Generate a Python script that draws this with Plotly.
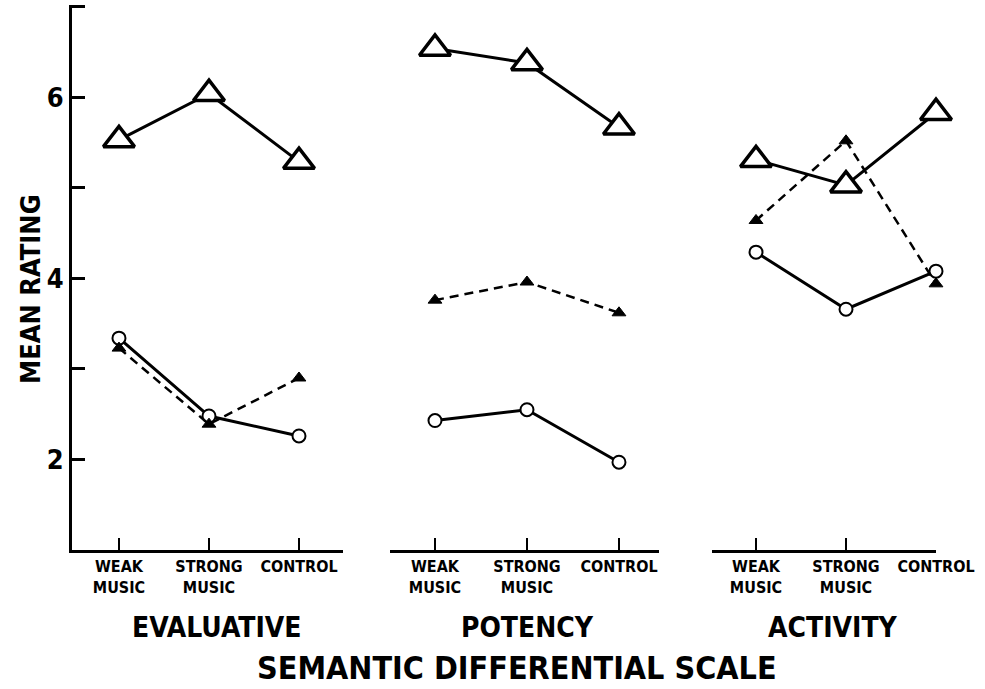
import plotly.graph_objects as go

# ---- data -------------------------------------------------------------
conditions = ["WEAK<br>MUSIC", "STRONG<br>MUSIC", "CONTROL"]
scales = ["EVALUATIVE", "POTENCY", "ACTIVITY"]

# open triangles, solid line
open_tri = {
    "EVALUATIVE": [5.53, 6.04, 5.29],
    "POTENCY": [6.54, 6.38, 5.67],
    "ACTIVITY": [5.31, 5.03, 5.83],
}
# filled triangles, dashed line
filled_tri = {
    "EVALUATIVE": [3.23, 2.39, 2.90],
    "POTENCY": [3.76, 3.96, 3.62],
    "ACTIVITY": [4.64, 5.52, 3.94],
}
# open circles, solid line
open_circ = {
    "EVALUATIVE": [3.34, 2.48, 2.26],
    "POTENCY": [2.43, 2.55, 1.97],
    "ACTIVITY": [4.29, 3.66, 4.08],
}

y_tickvals = [2, 3, 4, 5, 6, 7]
y_ticktext = ["2", "", "4", "", "6", ""]

# ---- styling ----------------------------------------------------------
FONT = "Liberation Sans Narrow, DejaVu Sans Condensed, Arial Narrow, sans-serif"
W, H = 985, 689
x_domains = [(72, 343), (390, 659), (712, 936)]      # pixel extents of each panel
x_ranges = [(-0.522, 2.489), (-0.489, 2.435), (-0.489, 2.0)]
y_dom = (1 - 550 / H, 1 - 5 / H)

fig = go.Figure()

for i, sc in enumerate(scales):
    xa = "x" if i == 0 else f"x{i + 1}"
    ya = "y"
    fig.add_trace(go.Scatter(
        x=conditions, y=open_circ[sc], xaxis=xa, yaxis=ya,
        mode="lines+markers", cliponaxis=False, showlegend=False,
        line=dict(color="black", width=3),
        marker=dict(symbol="circle", size=13, color="white",
                    line=dict(color="black", width=2)),
    ))
    fig.add_trace(go.Scatter(
        x=conditions, y=filled_tri[sc], xaxis=xa, yaxis=ya,
        mode="lines+markers", cliponaxis=False, showlegend=False,
        line=dict(color="black", width=2.5, dash="9px,6px"),
        marker=dict(symbol="triangle-up", size=12, color="black",
                    line=dict(color="black", width=1)),
    ))
    fig.add_trace(go.Scatter(
        x=conditions, y=open_tri[sc], xaxis=xa, yaxis=ya,
        mode="lines+markers", cliponaxis=False, showlegend=False,
        line=dict(color="black", width=3),
        marker=dict(symbol="triangle-up", size=27, color="white",
                    line=dict(color="black", width=3.5)),
    ))

axis_common = dict(
    type="category", categoryarray=conditions, automargin=False,
    showline=True, linecolor="black", linewidth=3,
    ticks="inside", ticklen=12, tickwidth=2, tickcolor="black",
    showgrid=False, zeroline=False,
    tickfont=dict(family=FONT, size=16, color="black", weight="bold"),
)

layout_axes = {}
for i, ((a, b), rng) in enumerate(zip(x_domains, x_ranges)):
    key = "xaxis" if i == 0 else f"xaxis{i + 1}"
    layout_axes[key] = dict(axis_common, domain=[a / W, b / W], range=list(rng),
                            anchor="y")

layout_axes["yaxis"] = dict(
    domain=list(y_dom), range=[1.0, 7.02], anchor="x", automargin=False,
    showline=True, linecolor="black", linewidth=3,
    ticks="inside", ticklen=13, tickwidth=2.5, tickcolor="black",
    tickvals=y_tickvals, ticktext=y_ticktext,
    showgrid=False, zeroline=False,
    tickfont=dict(family=FONT, size=27, color="black", weight="bold"),
)

annotations = [
    dict(text="MEAN RATING", x=30 / W, y=1 - 289 / H, xref="paper", yref="paper",
         textangle=-90, showarrow=False, xanchor="center", yanchor="middle",
         font=dict(family=FONT, size=27, color="black", weight="bold")),
    dict(text="SEMANTIC DIFFERENTIAL SCALE", x=517 / W, y=1 - 668 / H,
         xref="paper", yref="paper", showarrow=False,
         xanchor="center", yanchor="middle",
         font=dict(family=FONT, size=32, color="black", weight="bold")),
]
for cx, sc in zip([217, 527, 833], scales):
    annotations.append(dict(
        text=sc, x=cx / W, y=1 - 627 / H, xref="paper", yref="paper",
        showarrow=False, xanchor="center", yanchor="middle",
        font=dict(family=FONT, size=28, color="black", weight="bold")))

fig.update_layout(
    width=W, height=H,
    margin=dict(l=0, r=0, t=0, b=0),
    paper_bgcolor="white", plot_bgcolor="white",
    annotations=annotations,
    **layout_axes,
)

fig.write_html("out.html")
